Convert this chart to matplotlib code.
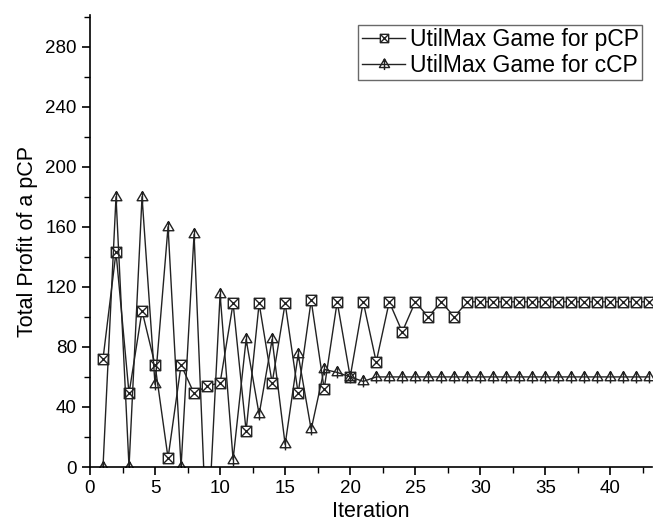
import matplotlib
matplotlib.use("Agg")
import matplotlib.pyplot as plt
from matplotlib.path import Path
from matplotlib.ticker import MultipleLocator

plt.rcParams['font.family'] = ['Liberation Sans', 'DejaVu Sans']

iterations = list(range(1, 44))
pcp_profit = [72, 143, 49, 104, 68, 6, 68, 49, 54, 56,
              109, 24, 109, 56, 109, 49, 111, 52, 110, 60,
              110, 70, 110, 90, 110, 100, 110, 100, 110, 110,
              110, 110, 110, 110, 110, 110, 110, 110, 110, 110,
              110, 110, 110]
ccp_profit = [0, 180, 0, 180, 55, 160, 0, 155, -55, 115,
              5, 85, 35, 85, 15, 75, 25, 65, 63, 60,
              57, 60, 60, 60, 60, 60, 60, 60, 60, 60,
              60, 60, 60, 60, 60, 60, 60, 60, 60, 60,
              60, 60, 60]
labels = ["UtilMax Game for pCP", "UtilMax Game for cCP"]

# boxed-x marker
sq_verts = [(-1, -1), (1, -1), (1, 1), (-1, 1), (-1, -1),
            (-1, -1), (1, 1), (-1, 1), (1, -1)]
sq_codes = [Path.MOVETO, Path.LINETO, Path.LINETO, Path.LINETO, Path.CLOSEPOLY,
            Path.MOVETO, Path.LINETO, Path.MOVETO, Path.LINETO]
box_x = Path(sq_verts, sq_codes)

tri_verts = [(-1, -0.6), (1, -0.6), (0, 1.1), (-1, -0.6),
             (0, 1.1), (0, -1.1)]
tri_codes = [Path.MOVETO, Path.LINETO, Path.LINETO, Path.CLOSEPOLY,
             Path.MOVETO, Path.LINETO]
tri_plus = Path(tri_verts, tri_codes)

fig = plt.figure(figsize=(6.54, 5.28), dpi=100)
ax = fig.add_axes([0.1376, 0.1155, 0.8594, 0.856])

ax.plot(iterations, pcp_profit, color='#222222', lw=1.0, marker=box_x,
        markersize=7.5, markerfacecolor='white', markeredgecolor='#222222',
        markeredgewidth=1.0, label=labels[0])
ax.plot(iterations, ccp_profit, color='#222222', lw=1.0, marker=tri_plus,
        markersize=8.5, fillstyle='none', markeredgecolor='#222222',
        markeredgewidth=1.0, label=labels[1])

ax.set_xlim(0, 43.2)
ax.set_ylim(0, 301)
ax.xaxis.set_major_locator(MultipleLocator(5))
ax.xaxis.set_minor_locator(MultipleLocator(2.5))
ax.set_yticks(range(0, 281, 40))
ax.yaxis.set_minor_locator(MultipleLocator(20))

for s in ['top', 'right']:
    ax.spines[s].set_visible(False)
for s in ['left', 'bottom']:
    ax.spines[s].set_linewidth(1.2)
ax.tick_params(which='major', direction='out', length=6, width=1.2, labelsize=13.5)
ax.tick_params(which='minor', direction='out', length=4, width=1.0)

ax.set_xlabel("Iteration", fontsize=15.5, labelpad=3)
ax.set_ylabel("Total Profit of a pCP", fontsize=15.5, labelpad=5)

leg = ax.legend(loc='upper right', bbox_to_anchor=(0.983, 0.978), fontsize=16.5,
                frameon=True, fancybox=False, edgecolor='#444444',
                handlelength=1.9, borderpad=0.15, labelspacing=0.1,
                handletextpad=0.2, borderaxespad=0)
leg.get_frame().set_linewidth(1.0)
handles = leg.legend_handles
handles[0].set_markersize(6.0)
handles[1].set_markersize(8.0)

fig.savefig("out.png", dpi=100)
